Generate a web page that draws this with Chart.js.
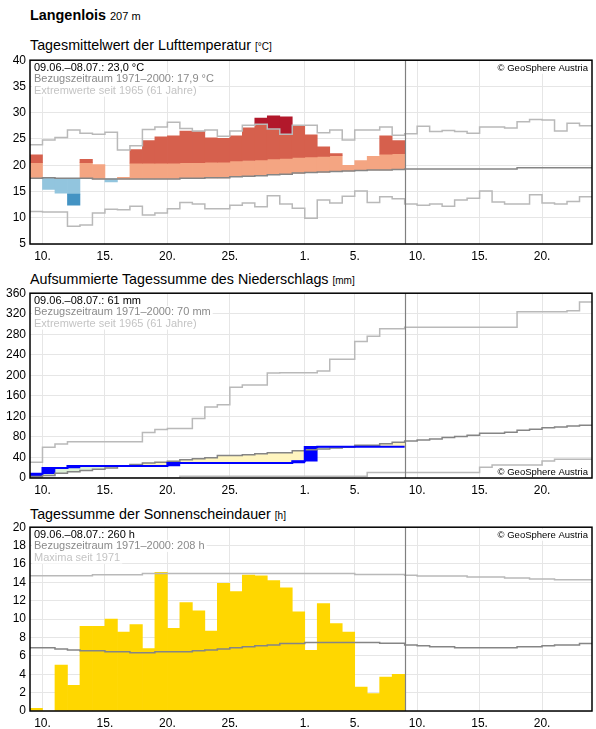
<!DOCTYPE html>
<html lang="de">
<head>
<meta charset="utf-8">
<title>Langenlois – Klimaverlauf</title>
<script src="https://cdn.jsdelivr.net/npm/chart.js@4.4.1/dist/chart.umd.min.js"></script>
<style>
  html, body { margin: 0; padding: 0; background: #fff; }
  body { width: 596px; height: 729px; position: relative; overflow: hidden;
         font-family: "Liberation Sans", Arial, sans-serif; color: #000; }
  .head { position: absolute; left: 30px; top: 7px; font-size: 14.4px; line-height: 16px; font-weight: bold; white-space: nowrap; }
  .head small { font-size: 11px; font-weight: normal; }
  .ptitle { position: absolute; left: 30px; font-size: 14.3px; line-height: 16px; white-space: nowrap; }
  .ptitle small { font-size: 10px; }
  canvas { position: absolute; left: 0; }
</style>
</head>
<body>
<div class="head">Langenlois <small>207 m</small></div>

<div class="ptitle" style="top:37px">Tagesmittelwert der Lufttemperatur <small>[°C]</small></div>
<canvas id="temp-chart" width="596" height="217" style="top:49px"></canvas>

<div class="ptitle" style="top:271px">Aufsummierte Tagessumme des Niederschlags <small>[mm]</small></div>
<canvas id="rain-chart" width="596" height="218" style="top:282px"></canvas>

<div class="ptitle" style="top:506px">Tagessumme der Sonnenscheindauer <small>[h]</small></div>
<canvas id="sun-chart" width="596" height="217" style="top:516px"></canvas>

<script>
/* Langenlois: 09.06. – 23.07., observed up to 08.07. */

// x axis: one entry per day, starting 09.06.2025
const firstDay = new Date(2025, 5, 9);
const dayCount = 45;
const labelDays = [1, 5, 10, 15, 20, 25];

// --- air temperature, daily mean [°C]
const tempObs  = [22.0, 15.4, 14.7, 12.4, 21.1, 20.1, 16.8, 17.7, 23.0, 24.7, 25.4, 25.6, 26.5, 26.4, 25.2,
                  25.1, 25.6, 27.1, 29.0, 29.4, 29.2, 27.5, 25.8, 23.5, 22.2, 20.0, 20.9, 21.7, 25.6, 24.7];
const tempNorm = [17.5, 17.6, 17.5, 17.5, 17.5, 17.4, 17.4, 17.4, 17.4, 17.4, 17.4, 17.4, 17.5, 17.5, 17.6,
                  17.6, 17.8, 17.9, 18.0, 18.2, 18.3, 18.5, 18.6, 18.7, 18.8, 18.9, 19.0, 19.1, 19.1, 19.2,
                  19.3, 19.3, 19.3, 19.3, 19.3, 19.3, 19.3, 19.3, 19.3, 19.5, 19.5, 19.5, 19.5, 19.5, 19.5];
const tempMax  = [23.9, 24.8, 25.3, 26.7, 26.1, 25.9, 26.3, 22.9, 23.7, 26.8, 27.3, 28.2, 27.0, 26.5, 26.7,
                  25.5, 26.5, 27.6, 27.8, 26.9, 25.9, 27.6, 27.6, 26.2, 26.7, 24.8, 26.7, 26.7, 27.3, 25.7,
                  26.0, 27.4, 26.4, 26.6, 26.4, 26.1, 27.3, 27.3, 27.1, 28.3, 28.7, 28.6, 26.5, 28.0, 27.5];
const tempMin  = [11.2, 11.1, 11.1, 8.4, 8.6, 10.9, 11.6, 11.5, 12.2, 10.5, 10.9, 11.7, 12.9, 12.6, 11.7,
                  11.7, 12.4, 12.8, 12.1, 14.2, 12.6, 11.8, 9.9, 13.4, 12.8, 14.1, 15.1, 12.9, 14.0, 13.6,
                  12.6, 12.4, 12.6, 12.2, 13.4, 13.7, 15.1, 13.0, 12.6, 12.6, 14.4, 12.8, 12.6, 13.1, 14.0];
const tempTexts = ['09.06.–08.07.: 23,0 °C', 'Bezugszeitraum 1971–2000: 17,9 °C', 'Extremwerte seit 1965 (61 Jahre)'];

// --- precipitation [mm]: daily sums observed, accumulated normal / extremes
const rainDaily = [8.5, 11.0, 0, 3.8, 0, 0, 0, 0, 0, 0, 0, 6.0, 0, 0, 0,
                   0, 0, 0, 0, 0, 0, 3.5, 27.8, 0.2, 0.2, 0, 0, 0, 0, 0];
const rainNorm  = [3.0, 5.0, 9.4, 12.0, 14.5, 17.0, 19.5, 24.0, 26.5, 29.0, 30.9, 32.8, 35.4, 37.3, 39.5,
                   43.6, 43.6, 45.5, 47.4, 49.3, 49.3, 53.1, 55.0, 56.3, 58.2, 60.1, 63.9, 63.9, 66.5, 69.6,
                   72.0, 73.9, 75.8, 79.0, 80.9, 83.4, 87.2, 87.2, 89.1, 92.9, 94.8, 97.9, 99.2, 101.1, 103.0];
const rainMax   = [30.9, 59.8, 66.2, 70.7, 70.7, 70.7, 70.7, 70.7, 70.7, 88.7, 94.5, 96.5, 96.5, 115.7, 138.2,
                   142.7, 176.8, 181.3, 181.3, 204.5, 205.0, 205.0, 205.0, 208.3, 231.5, 231.5, 266.0, 275.9, 290.7, 290.7,
                   293.9, 293.9, 293.9, 293.9, 293.9, 293.9, 293.9, 293.9, 293.9, 324.0, 324.0, 324.0, 324.0, 326.0, 343.0];
const rainMin   = [0, 0, 0, 0, 0, 0, 0, 0, 0, 0, 0, 0, 3.5, 3.5, 3.5,
                   3.5, 3.5, 3.5, 3.5, 3.5, 3.5, 3.5, 3.5, 3.5, 3.5, 3.5, 3.5, 10.5, 10.5, 10.5,
                   10.5, 10.5, 10.5, 10.5, 10.5, 10.5, 21.0, 25.5, 25.5, 25.5, 25.5, 33.0, 36.5, 36.5, 36.5];
const rainTexts = ['09.06.–08.07.: 61 mm', 'Bezugszeitraum 1971–2000: 70 mm', 'Extremwerte seit 1965 (61 Jahre)'];

// --- sunshine duration [h]
const sunObs  = [0.3, 0, 5.0, 2.8, 9.2, 9.2, 10.0, 8.6, 9.4, 6.8, 15.1, 9.0, 11.8, 10.9, 8.7,
                 13.9, 13.0, 14.8, 14.7, 14.2, 13.4, 10.8, 6.6, 11.7, 9.5, 8.6, 2.6, 1.9, 3.7, 4.0];
const sunNorm = [6.87, 6.87, 6.76, 6.65, 6.55, 6.55, 6.44, 6.44, 6.33, 6.33, 6.44, 6.44, 6.44, 6.55, 6.65,
                 6.76, 6.87, 6.98, 7.09, 7.19, 7.35, 7.35, 7.45, 7.45, 7.45, 7.45, 7.45, 7.45, 7.37, 7.37,
                 7.19, 7.09, 6.98, 6.98, 6.87, 6.87, 6.87, 6.87, 6.87, 6.98, 6.98, 7.09, 7.19, 7.19, 7.34];
const sunMax  = [14.71, 14.71, 14.71, 14.71, 14.71, 14.82, 14.82, 14.82, 14.82, 14.96, 14.96, 14.96, 14.96, 14.96, 14.96,
                 14.96, 14.96, 14.96, 14.96, 14.96, 14.96, 14.96, 14.96, 14.96, 14.96, 14.96, 14.86, 14.86, 14.86, 14.86,
                 14.78, 14.68, 14.68, 14.68, 14.68, 14.57, 14.57, 14.57, 14.46, 14.46, 14.35, 14.35, 14.28, 14.28, 14.28];
const sunTexts = ['09.06.–08.07.: 260 h', 'Bezugszeitraum 1971–2000: 208 h', 'Maxima seit 1971'];

const dates = Array.from({ length: dayCount }, (_, i) => new Date(firstDay.getFullYear(), firstDay.getMonth(), firstDay.getDate() + i));
const tickIdx = dates.map((d, i) => i).filter(i => labelDays.includes(dates[i].getDate()));

Chart.defaults.font.family = '"Liberation Sans", Arial, sans-serif';
Chart.defaults.font.size = 12;
Chart.defaults.color = '#000';

const textColors = ['#000000', '#8a8a8a', '#c4c4c4'];

/* frame, "today" line and the little text boxes inside the plot */
const panelDeco = {
  id: 'panelDeco',
  afterDatasetsDraw(chart, args, opts) {
    const { ctx, chartArea: a, scales: { x } } = chart;
    ctx.save();
    const xs = Math.round(x.getPixelForValue(opts.split)) + 0.5;
    ctx.strokeStyle = '#808080';
    ctx.lineWidth = 1.2;
    ctx.beginPath(); ctx.moveTo(xs, a.top); ctx.lineTo(xs, a.bottom); ctx.stroke();

    ctx.font = '11px "Liberation Sans", Arial, sans-serif';
    opts.lines.forEach((t, k) => {
      const y = a.top + 10.5 + k * 11.7;
      const w = ctx.measureText(t).width;
      ctx.fillStyle = '#fff';
      ctx.fillRect(a.left + 2, y - 9.5, w + 4, 12);
      ctx.fillStyle = textColors[k];
      ctx.fillText(t, a.left + 4, y);
    });

    ctx.font = '9.5px "Liberation Sans", Arial, sans-serif';
    const c = '© GeoSphere Austria';
    const cw = ctx.measureText(c).width;
    const cy = opts.copyAt === 'bottom' ? a.bottom - 3 : a.top + 11;
    ctx.fillStyle = '#fff';
    ctx.fillRect(a.right - 6 - cw, cy - 9, cw + 4, 11.5);
    ctx.fillStyle = '#000';
    ctx.fillText(c, a.right - 4 - cw, cy);

    ctx.strokeStyle = '#000';
    ctx.lineWidth = 1.5;
    ctx.strokeRect(a.left, a.top, a.right - a.left, a.bottom - a.top);
    ctx.restore();
  }
};

function stepLine(values, color, width, order) {
  const pts = values.map((v, i) => ({ x: i, y: v }));
  pts.push({ x: values.length, y: values[values.length - 1] });
  return { type: 'line', data: pts, borderColor: color, borderWidth: width, stepped: true,
           pointRadius: 0, fill: false, borderCapStyle: 'butt', order };
}

function floatBars(items, color, order) {
  return { type: 'bar', data: items, backgroundColor: color, borderWidth: 0, grouped: false,
           barPercentage: 1, categoryPercentage: 1, order };
}

function makePanel(id, yAxis, datasets, texts, copyAt) {
  return new Chart(document.getElementById(id), {
    type: 'bar',
    data: { datasets },
    options: {
      responsive: false,
      animation: false,
      events: [],
      layout: { padding: { top: 10, right: 4, bottom: 0, left: 0 } },
      plugins: {
        legend: { display: false },
        tooltip: { enabled: false },
        panelDeco: { lines: texts, copyAt, split: sunObs.length }
      },
      scales: {
        x: {
          type: 'linear', min: 0, max: dayCount, offset: false,
          grid: { color: '#e6e6e6', lineWidth: 1, drawTicks: false, offset: false },
          border: { display: false },
          afterBuildTicks: s => { s.ticks = tickIdx.map(v => ({ value: v })); },
          afterFit: s => { s.height = 22; },
          ticks: { autoSkip: false, maxRotation: 0, padding: 5, callback: v => dates[v].getDate() + '.' }
        },
        y: {
          min: yAxis.min, max: yAxis.max,
          grid: { color: '#e6e6e6', lineWidth: 1, drawTicks: false },
          border: { display: false },
          afterFit: s => { s.width = 30; },
          ticks: { stepSize: yAxis.step, padding: 4 }
        }
      }
    },
    plugins: [panelDeco]
  });
}

// temperature: shade the anomaly against the normal in bands
const warm = [], warmer = [], record = [], cool = [], cooler = [];
tempObs.forEach((v, i) => {
  const n = tempNorm[i], x = i + 0.5;
  if (v >= n) {
    warm.push({ x, y: [n, Math.min(v, n + 3)] });
    if (v > n + 3) warmer.push({ x, y: [n + 3, Math.min(v, tempMax[i])] });
    if (v > tempMax[i]) record.push({ x, y: [tempMax[i], v] });
  } else {
    cool.push({ x, y: [Math.max(v, n - 3), n] });
    if (v < n - 3) cooler.push({ x, y: [v, n - 3] });
  }
});

makePanel('temp-chart', { min: 5, max: 40, step: 5 }, [
  stepLine(tempMax, '#b9b9b9', 1.5, 2),
  stepLine(tempMin, '#b9b9b9', 1.5, 2),
  stepLine(tempNorm, '#858585', 1.5, 1),
  floatBars(warm, '#f4a582', 14),
  floatBars(warmer, '#d6604d', 13),
  floatBars(record, '#b2182b', 12),
  floatBars(cool, '#92c5de', 14),
  floatBars(cooler, '#4393c3', 13)
], tempTexts, 'top');

// precipitation: accumulate the daily sums
const rainCum = [];
rainDaily.forEach((p, i) => rainCum.push((i ? rainCum[i - 1] : 0) + p));
const wetter = [], drier = [], rainBlocks = [];
rainCum.forEach((c, i) => {
  const n = rainNorm[i], x = i + 0.5, prev = i ? rainCum[i - 1] : 0;
  if (c > n) wetter.push({ x, y: [n, c] });
  else if (c < n) drier.push({ x, y: [c, n] });
  if (rainDaily[i] > 0) rainBlocks.push({ x, y: [prev, c] });
});

makePanel('rain-chart', { min: 0, max: 360, step: 40 }, [
  stepLine(rainMax, '#b9b9b9', 1.5, 3),
  stepLine(rainMin, '#b9b9b9', 1.5, 3),
  stepLine(rainNorm, '#858585', 1.5, 2),
  stepLine(rainCum, '#0000ff', 2, 1),
  floatBars(wetter, '#ddf1d6', 14),
  floatBars(drier, '#fff5bf', 14),
  floatBars(rainBlocks, '#0000ff', 12)
], rainTexts, 'bottom');

makePanel('sun-chart', { min: 0, max: 20, step: 2 }, [
  stepLine(sunMax, '#b9b9b9', 1.5, 2),
  stepLine(sunNorm, '#858585', 1.5, 1),
  floatBars(sunObs.map((v, i) => ({ x: i + 0.5, y: v })), '#ffd700', 12)
], sunTexts, 'top');
</script>
</body>
</html>
